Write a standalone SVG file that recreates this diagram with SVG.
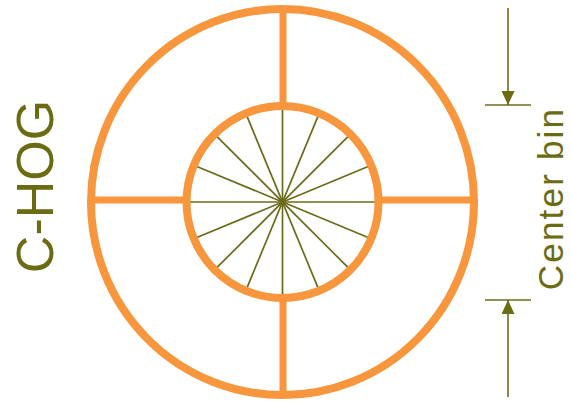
<svg xmlns="http://www.w3.org/2000/svg" width="571" height="402" viewBox="0 0 571 402">
  <style>
    .ring { fill: none; stroke: #f7963c; stroke-width: 8; }
    .div { stroke: #f7963c; stroke-width: 7; }
    .spoke { stroke: #6b6b1c; stroke-width: 1.7; }
    .dim { stroke: #6b6b1c; stroke-width: 1.6; fill: none; }
    .lbl { font-family: "Liberation Sans", Arial, sans-serif; fill: #6b6b12; }
  </style>
  <defs>
    <marker id="ah" viewBox="0 0 14 13" refX="14" refY="6.5" markerWidth="14" markerHeight="13" orient="auto" markerUnits="userSpaceOnUse">
      <path d="M0,0 L14,6.5 L0,13 z" fill="#6b6b12"/>
    </marker>
  </defs>
  <rect width="571" height="402" fill="#ffffff"/>

  <g id="outer-bin">
    <ellipse class="ring" cx="282.5" cy="202" rx="191.5" ry="193"/>
    <line class="div" x1="283" y1="9" x2="283" y2="106"/>
    <line class="div" x1="283" y1="298" x2="283" y2="395"/>
    <line class="div" x1="91" y1="200" x2="187" y2="200"/>
    <line class="div" x1="378" y1="200" x2="474" y2="200"/>
  </g>

  <g id="center-bin">
    <g transform="translate(282.5,202)">
      <line class="spoke" x1="-94" y1="0" x2="94" y2="0"/>
      <line class="spoke" x1="-86.85" y1="-35.97" x2="86.85" y2="35.97"/>
      <line class="spoke" x1="-66.47" y1="-66.47" x2="66.47" y2="66.47"/>
      <line class="spoke" x1="-35.97" y1="-86.85" x2="35.97" y2="86.85"/>
      <line class="spoke" x1="0" y1="-94" x2="0" y2="94"/>
      <line class="spoke" x1="35.97" y1="-86.85" x2="-35.97" y2="86.85"/>
      <line class="spoke" x1="66.47" y1="-66.47" x2="-66.47" y2="66.47"/>
      <line class="spoke" x1="86.85" y1="-35.97" x2="-86.85" y2="35.97"/>
      <circle cx="0" cy="0" r="2" fill="#6b6b12"/>
    </g>
    <circle class="ring" cx="282.5" cy="202" r="96"/>
  </g>

  <g id="connectors">
    <line class="dim" x1="508" y1="8" x2="508" y2="105" marker-end="url(#ah)"/>
    <line class="dim" x1="485" y1="105" x2="531" y2="105"/>
    <line class="dim" x1="508" y1="397" x2="508" y2="300" marker-end="url(#ah)"/>
    <line class="dim" x1="485" y1="300" x2="531" y2="300"/>
  </g>

  <g id="label-chog">
    <text class="lbl" transform="translate(53,186.5) rotate(-90)" text-anchor="middle" font-size="52">C-HOG</text>
  </g>
  <g id="label-center-bin">
    <text class="lbl" transform="translate(563,198.5) rotate(-90)" text-anchor="middle" font-size="35" letter-spacing="2.2">Center bin</text>
  </g>
</svg>
